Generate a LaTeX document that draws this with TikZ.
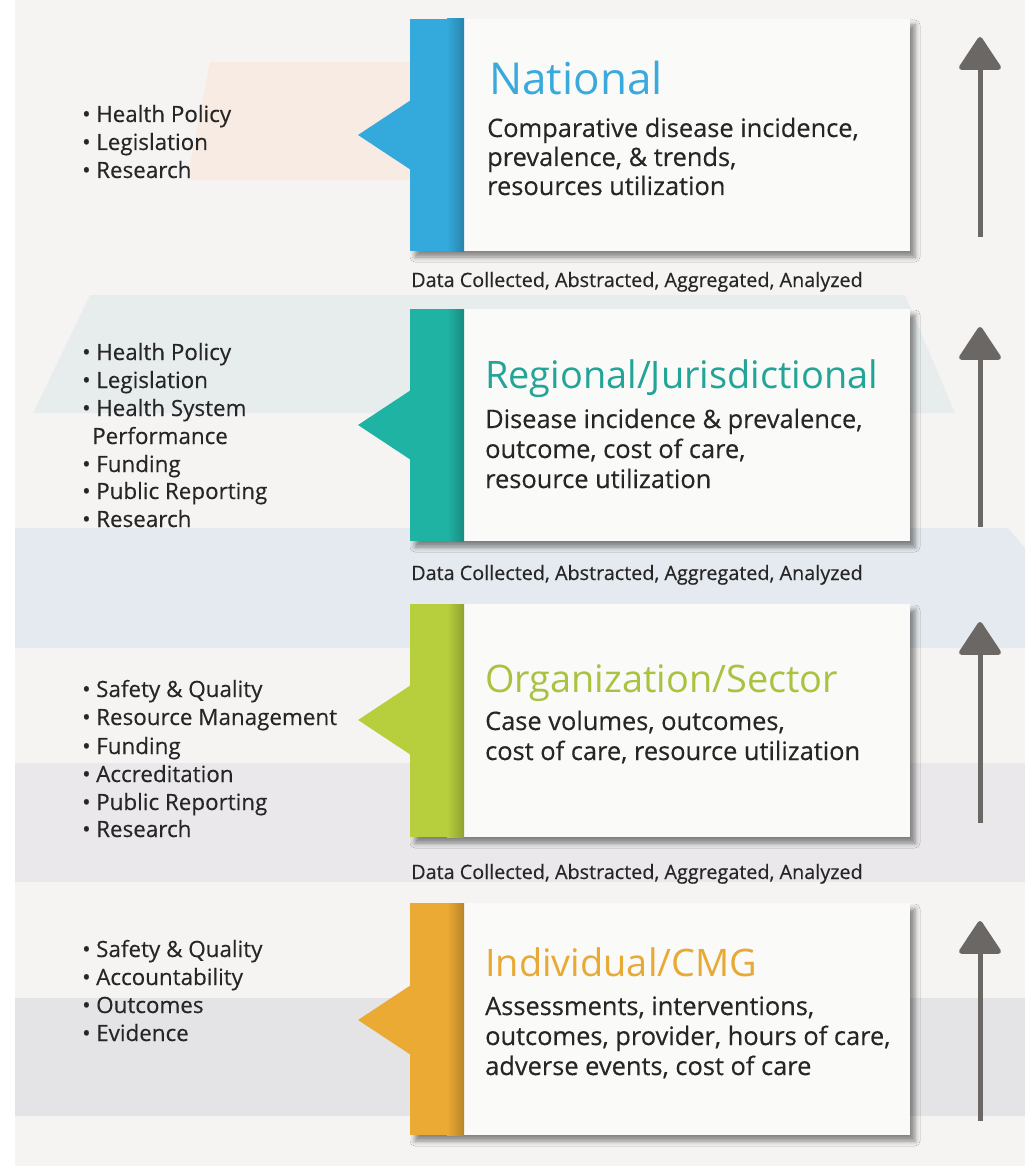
\documentclass[tikz,border=0pt]{standalone}
\usepackage{fontspec}
\setmainfont{Open Sans}
\newfontfamily\medfont{Open Sans}[FakeBold=0.35]
\usetikzlibrary{arrows.meta,shadows.blur}
\definecolor{bgc}{HTML}{F5F4F2}
\definecolor{peach}{HTML}{F7EBE4}
\definecolor{tealband}{HTML}{E7EDED}
\definecolor{blueband}{HTML}{E4EAEF}
\definecolor{lavband}{HTML}{EAE8EB}
\definecolor{grayband}{HTML}{E4E4E6}
\definecolor{boxwhite}{HTML}{FAFAF9}
\definecolor{txt}{HTML}{262626}
\definecolor{arrowc}{HTML}{6B6765}
\definecolor{cblue}{HTML}{34A9DB}
\definecolor{cteal}{HTML}{1FB3A4}
\definecolor{cgreen}{HTML}{B7CF3D}
\definecolor{corange}{HTML}{EBAA33}
\definecolor{tblue}{HTML}{3AA9DC}
\definecolor{tteal}{HTML}{22A597}
\definecolor{tgreen}{HTML}{A9C23F}
\definecolor{torange}{HTML}{E8A935}
\tikzset{
  boxw/.style={fill=boxwhite, blur shadow={shadow xshift=5pt, shadow yshift=-6pt, shadow blur radius=5pt, shadow opacity=45}},
  tiertitle/.style={inner sep=0pt, anchor=base west, font=\fontsize{37.9}{44}\selectfont},
  bodyline/.style={inner sep=0pt, anchor=base west, text=txt, font=\medfont\fontsize{25.4}{30}\selectfont},
  listline/.style={inner sep=0pt, anchor=base west, text=txt, font=\medfont\fontsize{22.4}{28}\selectfont},
  dataline/.style={inner sep=0pt, anchor=base west, text=txt, font=\medfont\fontsize{19.8}{24}\selectfont},
  uparrow/.style={draw=arrowc, line width=5pt, -{Triangle[width=45pt,length=35pt,round]}},
}
\newcommand\tierbox[4]{% top, bottom, colour, pointer tip y
  \path[boxw] (410,#1) rectangle (910,#2);
  \fill[#3] (410,#1) rectangle (464,#2);
  \shade[left color=#3, right color=#3!78!black] (447,#1) rectangle (464,#2);
  \fill[#3] (411,#4-35) -- (358,#4) -- (411,#4+35) -- cycle;
}
\newcommand\bul{\makebox[14pt][l]{•}}
\begin{document}
\begin{tikzpicture}[x=1pt,y=-1pt]
\useasboundingbox (0,0) rectangle (1025,1166);
\fill[white] (0,0) rectangle (1025,1166);
\fill[bgc] (15,0) rectangle (1025,1166);
% background bands
\fill[peach] (210,62) -- (411,62) -- (411,180) -- (187,180) -- cycle;
\fill[tealband] (90,295) -- (905,295) -- (955,413) -- (33,413) -- cycle;
\fill[blueband] (15,528) -- (1008,528) -- (1025,548) -- (1025,648) -- (15,648) -- cycle;
\fill[lavband] (15,763) rectangle (1025,882);
\fill[grayband] (15,998) rectangle (1025,1116);

% boxes
\tierbox{19}{251}{cblue}{135}
\tierbox{309}{541}{cteal}{425}
\tierbox{604}{837}{cgreen}{720}
\tierbox{903}{1135}{corange}{1020}

% National
\node[tiertitle, text=tblue, font=\fontsize{44}{50}\selectfont] (t1) at (489,95) {National};
\node[bodyline] (b1a) at (487,137) {Comparative disease incidence,};
\node[bodyline] (b1b) at (487,166) {prevalence, \& trends,};
\node[bodyline] (b1c) at (487,195) {resources utilization};
\node[listline] (l1a) at (82,122) {\bul Health Policy};
\node[listline] (l1b) at (82,150) {\bul Legislation};
\node[listline] (l1c) at (82,178) {\bul Research};
\node[dataline] (d1) at (411,287) {Data Collected, Abstracted, Aggregated, Analyzed};

% Regional
\node[tiertitle, text=tteal] (t2) at (485,388) {Regional/Jurisdictional};
\node[bodyline] (b2a) at (485,428) {Disease incidence \& prevalence,};
\node[bodyline] (b2b) at (485,458) {outcome, cost of care,};
\node[bodyline] (b2c) at (485,488) {resource utilization};
\node[listline] (l2a) at (82,360) {\bul Health Policy};
\node[listline] (l2b) at (82,388) {\bul Legislation};
\node[listline] (l2c) at (82,416) {\bul Health System};
\node[listline] (l2d) at (92,444) {Performance};
\node[listline] (l2e) at (82,472) {\bul Funding};
\node[listline] (l2f) at (82,499) {\bul Public Reporting};
\node[listline] (l2g) at (82,527) {\bul Research};
\node[dataline] (d2) at (411,580) {Data Collected, Abstracted, Aggregated, Analyzed};

% Organization
\node[tiertitle, text=tgreen] (t3) at (485,692) {Organization/Sector};
\node[bodyline] (b3a) at (485,730) {Case volumes, outcomes,};
\node[bodyline] (b3b) at (485,760) {cost of care, resource utilization};
\node[listline] (l3a) at (82,697) {\bul Safety \& Quality};
\node[listline] (l3b) at (82,725) {\bul Resource Management};
\node[listline] (l3c) at (82,754) {\bul Funding};
\node[listline] (l3d) at (82,782) {\bul Accreditation};
\node[listline] (l3e) at (82,810) {\bul Public Reporting};
\node[listline] (l3f) at (82,837) {\bul Research};
\node[dataline] (d3) at (411,879) {Data Collected, Abstracted, Aggregated, Analyzed};

% Individual
\node[tiertitle, text=torange] (t4) at (485,976) {Individual/CMG};
\node[bodyline] (b4a) at (485,1015) {Assessments, interventions,};
\node[bodyline] (b4b) at (485,1045) {outcomes, provider, hours of care,};
\node[bodyline] (b4c) at (485,1075) {adverse events, cost of care};
\node[listline] (l4a) at (82,957) {\bul Safety \& Quality};
\node[listline] (l4b) at (82,985) {\bul Accountability};
\node[listline] (l4c) at (82,1013) {\bul Outcomes};
\node[listline] (l4d) at (82,1041) {\bul Evidence};

% arrows
\coordinate (a1s) at (980,237); \coordinate (a1e) at (980,37);
\coordinate (a2s) at (980,527); \coordinate (a2e) at (980,327);
\coordinate (a3s) at (980,823); \coordinate (a3e) at (980,622);
\coordinate (a4s) at (980,1121); \coordinate (a4e) at (980,921);
\draw[uparrow] (a1s) -- (a1e);
\draw[uparrow] (a2s) -- (a2e);
\draw[uparrow] (a3s) -- (a3e);
\draw[uparrow] (a4s) -- (a4e);
\end{tikzpicture}
\end{document}
